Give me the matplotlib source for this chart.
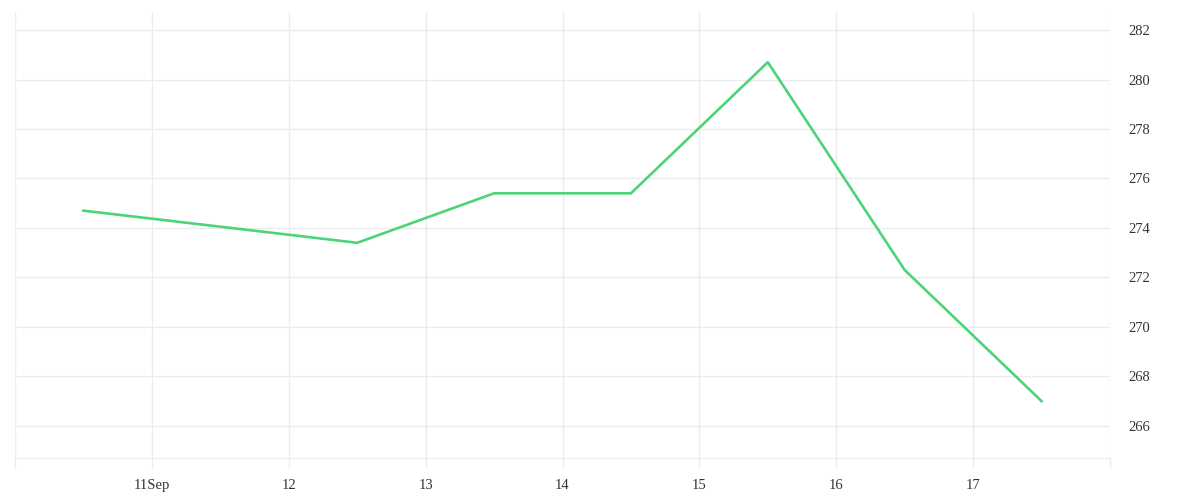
import matplotlib
matplotlib.use("Agg")
from matplotlib import pyplot as plt
import matplotlib.dates as mdates
import numpy as np

# DATOS
fechas = np.array(["2023-09-10T12:00", "2023-09-12T12:00", "2023-09-13T12:00",
                   "2023-09-14T12:00", "2023-09-15T12:00", "2023-09-16T12:00",
                   "2023-09-17T12:00"], dtype="datetime64[m]")
valores = [274.7, 273.4, 275.4, 275.4, 280.7, 272.3, 267.0]
ticks_y = [266, 268, 270, 272, 274, 276, 278, 280, 282]
ticks_x = np.arange(np.datetime64("2023-09-10"), np.datetime64("2023-09-19"))

plt.rcParams["font.family"] = ["Liberation Serif", "DejaVu Serif"]

fig = plt.figure(figsize=(12, 5), dpi=100)
ax = fig.add_axes([0.0125, 0.084, 0.9125, 0.892])

ax.plot(fechas, valores, color="#4cd478", linewidth=1.9)

ax.set_xlim(ticks_x[0], ticks_x[-1])
ax.set_ylim(264.7, 282.73)

ax.set_xticks(ticks_x)
def etiqueta(x, pos):
    d = mdates.num2date(x)
    if pos == 0 or pos == len(ticks_x) - 1:
        return ""
    if pos == 1:
        return f"{d.day}Sep"
    return f"{d.day}"
ax.xaxis.set_major_formatter(plt.FuncFormatter(etiqueta))
ax.set_yticks(ticks_y)

ax.yaxis.tick_right()
ax.grid(True, color="#ececec", linewidth=1)
ax.tick_params(axis="y", length=0, pad=13, labelsize=10.5, labelcolor="#333333")
ax.tick_params(axis="x", length=7.5, width=1, color="#ececec", pad=7.5,
               labelsize=10.5, labelcolor="#333333")

for lado in ("top", "left", "right"):
    ax.spines[lado].set_visible(False)
ax.spines["bottom"].set_color("#ececec")

plt.savefig("out.png")
